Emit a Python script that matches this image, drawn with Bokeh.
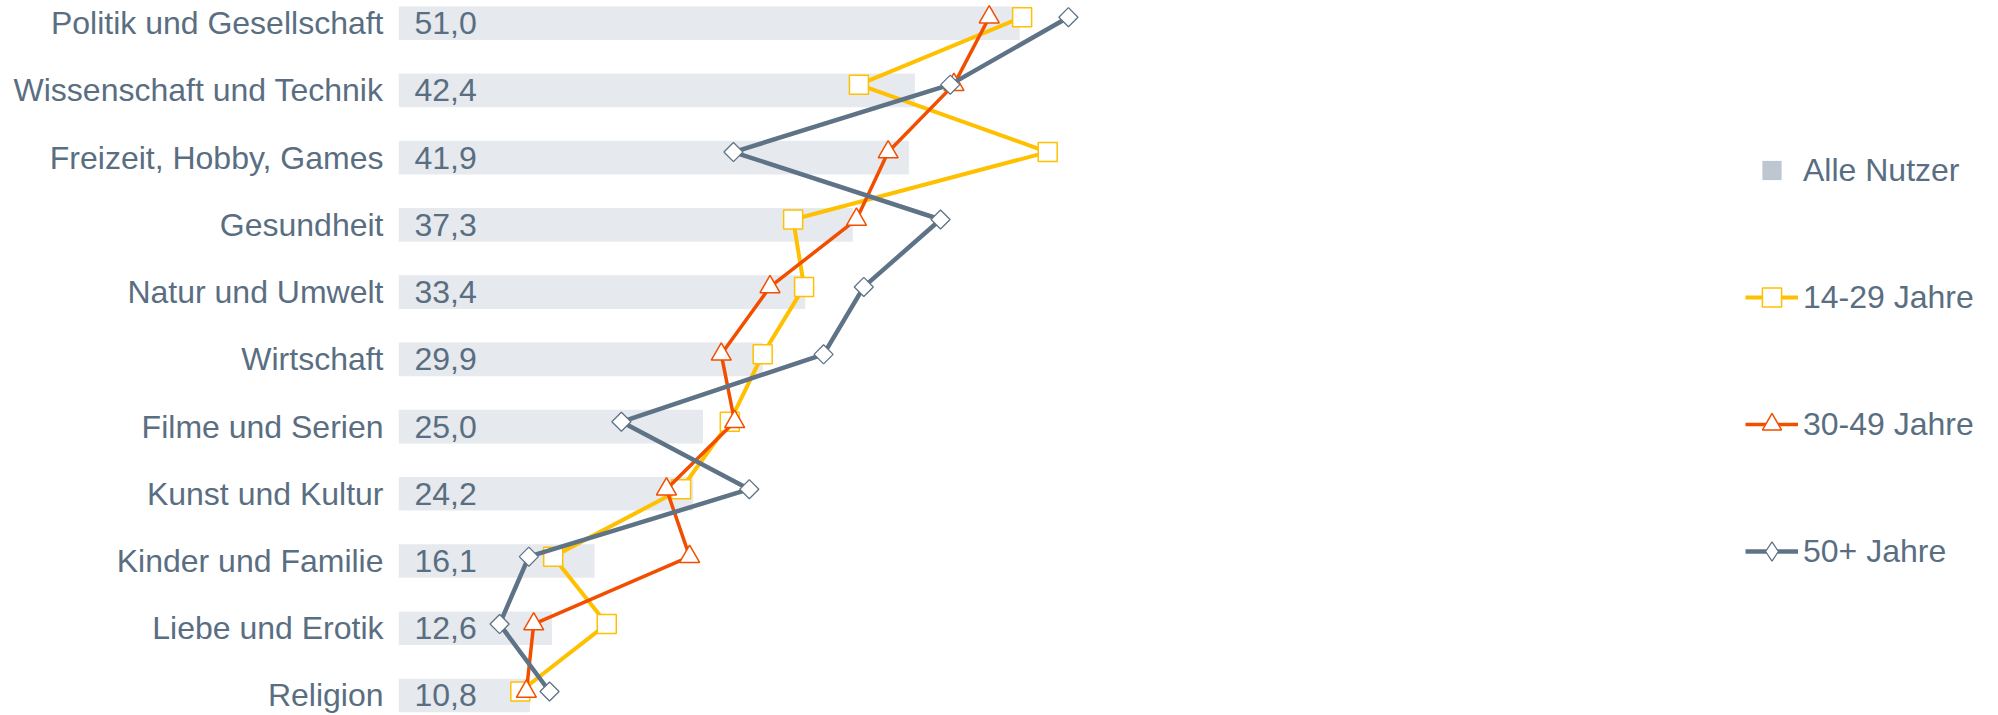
import math
from bokeh.plotting import figure
from bokeh.models import Range1d, FixedTicker, Legend, LegendItem, ColumnDataSource
from bokeh.embed import file_html
from bokeh.resources import INLINE
from bokeh.core.properties import value

# ---- data ----
categories = ["Politik und Gesellschaft", "Wissenschaft und Technik", "Freizeit, Hobby, Games",
              "Gesundheit", "Natur und Umwelt", "Wirtschaft", "Filme und Serien",
              "Kunst und Kultur", "Kinder und Familie", "Liebe und Erotik", "Religion"]
alle_nutzer = [51.0, 42.4, 41.9, 37.3, 33.4, 29.9, 25.0, 24.2, 16.1, 12.6, 10.8]
jahre_14_29 = [51.2, 37.8, 53.3, 32.4, 33.3, 29.9, 27.2, 23.2, 12.7, 17.1, 10.0]
jahre_30_49 = [48.5, 45.6, 40.2, 37.6, 30.5, 26.5, 27.6, 22.0, 23.9, 11.1, 10.5]
jahre_50_plus = [55.0, 45.3, 27.5, 44.5, 38.2, 34.9, 18.3, 28.8, 10.7, 8.3, 12.4]
series_names = ["Alle Nutzer", "14-29 Jahre", "30-49 Jahre", "50+ Jahre"]

# ---- styles ----
FONT = "Liberation Sans"
FS = "32px"
TEXT = "#5A6E82"
BAR = "#E6E9ED"
LEG_SQ = "#BDC7D1"
YEL = "#FFC000"
RED = "#F24E00"
GRY = "#5F7387"

idx = list(range(len(categories)))

p = figure(width=1998, height=715, output_backend="svg", toolbar_location=None,
           x_axis_location=None, min_border_left=398, min_border_right=0,
           min_border_top=0, min_border_bottom=0,
           x_range=Range1d(0, 131.36), y_range=Range1d(10.2975, -0.3376))
p.extra_y_ranges = {"lines": Range1d(10.356, -0.2477)}
p.outline_line_color = None
p.grid.visible = False
p.background_fill_color = "white"

ax = p.yaxis[0]
ax.ticker = FixedTicker(ticks=idx)
ax.major_label_overrides = {i: c for i, c in zip(idx, categories)}
ax.axis_line_color = None
ax.major_tick_line_color = None
ax.minor_tick_line_color = None
ax.major_tick_out = 0
ax.major_label_standoff = 15
ax.major_label_text_font = FONT
ax.major_label_text_font_size = FS
ax.major_label_text_color = TEXT

bar_src = ColumnDataSource(dict(
    y=idx, right=alle_nutzer, left=[0] * len(idx),
    lab=[f"{v:.1f}".replace(".", ",") for v in alle_nutzer]))
p.hbar(y="y", left="left", right="right", height=0.5, source=bar_src,
       fill_color=BAR, line_color=None)
p.text(x="left", y="y", text="lab", source=bar_src, x_offset=16,
       text_baseline="middle", text_align="left", text_font=value(FONT),
       text_font_size=FS, text_color=TEXT)

l1 = p.line(jahre_14_29, idx, line_color=YEL, line_width=4, y_range_name="lines")
m1 = p.scatter(jahre_14_29, idx, marker="square", size=19, fill_color="white",
               line_color=YEL, line_width=1.5, y_range_name="lines")
l2 = p.line(jahre_30_49, idx, line_color=RED, line_width=3.5, y_range_name="lines")
m2 = p.scatter(jahre_30_49, idx, marker="triangle", size=20, fill_color="white",
               line_color=RED, line_width=1.5, y_range_name="lines")
l3 = p.line(jahre_50_plus, idx, line_color=GRY, line_width=4.5, y_range_name="lines")
m3 = p.scatter(jahre_50_plus, idx, marker="square", angle=math.pi / 4, size=13.5,
               fill_color="white", line_color=GRY, line_width=1.3, y_range_name="lines")

# legend-only glyphs (one undrawable NaN point each)
nan_src = ColumnDataSource(dict(x=[float("nan")], y=[float("nan")]))
d_bar = p.scatter("x", "y", source=nan_src, marker="square", fill_color=LEG_SQ, line_color=None)
d_dia = p.scatter("x", "y", source=nan_src, marker="diamond", fill_color="white",
                  line_color=GRY, line_width=1.3)

legend = Legend(items=[
    LegendItem(label=series_names[0], renderers=[d_bar]),
    LegendItem(label=series_names[1], renderers=[l1, m1]),
    LegendItem(label=series_names[2], renderers=[l2, m2]),
    LegendItem(label=series_names[3], renderers=[l3, d_dia]),
], location=(1347, 140), glyph_width=53, glyph_height=48, label_height=48,
    spacing=79, padding=0, margin=0, border_line_alpha=0, background_fill_alpha=0,
    label_standoff=5, label_text_font=FONT, label_text_font_size=FS,
    label_text_color=TEXT)
p.add_layout(legend)

open("out.html", "w").write(file_html(p, INLINE))
